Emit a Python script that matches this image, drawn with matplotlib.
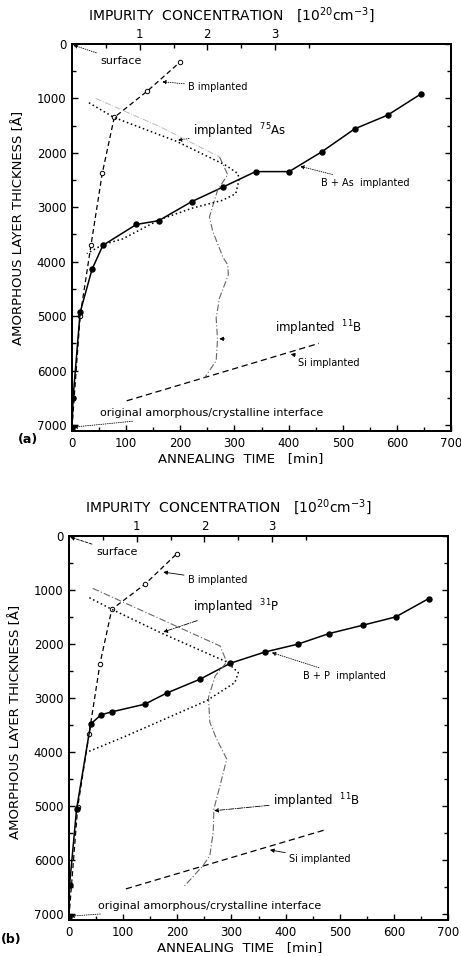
import matplotlib
matplotlib.use("Agg")
import matplotlib.pyplot as plt
from matplotlib.ticker import MultipleLocator, FixedLocator

plt.rcParams['font.family'] = ['DejaVu Sans']
plt.rcParams['mathtext.default'] = 'regular'

# ---------------- panel (a) data ----------------
# regrowth (B + As implanted): annealing time [min], amorphous thickness [Å]
time_BAs = [0, 2, 15, 37, 57, 119, 160, 221, 279, 339, 401, 461, 522, 583, 644]
depth_BAs = [7050, 6500, 4930, 4140, 3700, 3315, 3247, 2897, 2628, 2345, 2345, 1983, 1560, 1307, 921]
# regrowth (B implanted)
time_B_a = [0, 15, 35, 56, 78, 139, 199]
depth_B_a = [7050, 5000, 3700, 2370, 1350, 866, 337]
# regrowth (Si implanted)
time_Si_a = [101, 456]
depth_Si_a = [6556, 5501]
# implanted 75As profile: concentration [1e20 cm^-3], depth [Å]
conc_As = [0.25, 0.62, 1.54, 2.27, 2.45, 2.47, 2.42, 2.22, 1.78, 1.29, 0.75, 0.45, 0.22]
depth_As = [1080, 1350, 1786, 2228, 2380, 2480, 2750, 2873, 3015, 3230, 3580, 3690, 3850]
# implanted 11B profile
conc_B11_a = [0.35, 1.30, 2.18, 2.30, 2.15, 2.03, 2.08, 2.23, 2.30, 2.31, 2.18, 2.13, 2.15, 2.13, 1.96]
depth_B11_a = [1000, 1520, 2075, 2400, 2690, 3180, 3444, 3917, 4057, 4241, 4666, 5030, 5430, 5820, 6130]

# ---------------- panel (b) data ----------------
time_BP = [0, 1, 14, 40, 59, 79, 140, 180, 242, 298, 362, 422, 480, 542, 603, 664]
depth_BP = [7050, 6470, 5055, 3484, 3312, 3257, 3115, 2911, 2652, 2357, 2148, 2005, 1808, 1654, 1500, 1161]
time_B_b = [0, 16, 37, 57, 79, 140, 199]
depth_B_b = [7050, 5025, 3670, 2375, 1358, 896, 330]
time_Si_b = [105, 472]
depth_Si_b = [6535, 5444]
conc_P = [0.30, 0.63, 1.37, 2.33, 2.50, 2.45, 2.03, 0.85, 0.26]
depth_P = [1143, 1358, 1802, 2333, 2530, 2715, 3053, 3700, 4007]
conc_B11_b = [0.35, 2.23, 2.33, 2.16, 2.06, 2.08, 2.18, 2.33, 2.23, 2.14, 2.13, 2.08, 1.98, 1.69]
depth_B11_b = [970, 2037, 2333, 2590, 2990, 3450, 3760, 4130, 4625, 5055, 5487, 5918, 6103, 6503]

time_ticks = [0, 100, 200, 300, 400, 500, 600, 700]
depth_ticks = [0, 1000, 2000, 3000, 4000, 5000, 6000, 7000]
conc_ticks = [1, 2, 3]

fig = plt.figure(figsize=(4.61, 9.56), dpi=100)


def setup(rect, ylab_xy, xlab_xy):
    ax = fig.add_axes(rect)
    ax.set_xlim(0, 700)
    ax.set_ylim(7110, 0)
    ax.set_xticks(time_ticks)
    ax.set_yticks(depth_ticks)
    ax.xaxis.set_minor_locator(MultipleLocator(50))
    ax.yaxis.set_minor_locator(MultipleLocator(500))
    ax.tick_params(which='both', direction='in', top=False, right=True,
                   labelsize=8.5, width=1.0, pad=4)
    ax.tick_params(which='major', length=4)
    ax.tick_params(which='minor', length=3)
    for s in ax.spines.values():
        s.set_linewidth(1.4)
    ax.set_xlabel('ANNEALING  TIME   [min]', fontsize=9.5, va='center')
    ax.xaxis.set_label_coords(*xlab_xy)
    ax.set_ylabel('AMORPHOUS LAYER THICKNESS [Å]', fontsize=9.5, va='center')
    ax.yaxis.set_label_coords(*ylab_xy)

    ax2 = ax.twiny()
    ax2.set_xlim(0, 700 / 125)
    ax2.xaxis.set_major_locator(FixedLocator(conc_ticks))
    ax2.xaxis.set_minor_locator(FixedLocator([0.5, 1.5, 2.5, 3.5]))
    ax2.tick_params(which='both', direction='in', labelsize=8.5, width=1.0, pad=2)
    ax2.tick_params(which='major', length=4)
    ax2.tick_params(which='minor', length=3)
    ax2.set_xlabel(r'IMPURITY  CONCENTRATION   [10$^{20}$cm$^{-3}$]', fontsize=10, va='center')
    ax2.xaxis.set_label_coords(0.42, 1.075)
    for s in ax2.spines.values():
        s.set_linewidth(1.4)
    return ax, ax2


def leader(ax, text, tip, txt, fs=7, ls=':'):
    ax.annotate(text, xy=tip, xytext=txt, fontsize=fs, ha='left', va='center',
                arrowprops=dict(arrowstyle='-|>', lw=0.6, color='k', linestyle=ls,
                                mutation_scale=6, shrinkA=1, shrinkB=0))


# ================= panel (a) =================
axa, axa2 = setup([0.1562, 0.5492, 0.8221, 0.4048], (-0.142, 0.525), (0.446, -0.072))
axa2.plot(conc_B11_a[:3], depth_B11_a[:3], color='#bbbbbb', lw=0.7, ls='-.')
axa2.plot(conc_B11_a[2:], depth_B11_a[2:], color='#666666', lw=0.8, ls=(0, (6, 2, 1, 2)))
axa2.plot(conc_As, depth_As, color='k', lw=1.1, ls=(0, (1, 1.8)))
axa.plot(time_B_a, depth_B_a, color='k', lw=0.9, ls=(0, (4, 2.5)),
         marker='o', ms=3.2, mfc='white', mec='k', mew=0.7)
axa.plot(time_Si_a, depth_Si_a, color='k', lw=0.9, ls=(0, (5, 3)))
axa.plot(time_BAs, depth_BAs, color='k', lw=1.1, marker='o', ms=3.6, mfc='k', mec='k')
axa.plot([0], [7050], marker='v', color='k', ms=4)

leader(axa, 'surface', (2, 20), (52, 313), fs=8)
leader(axa, 'B implanted', (166, 694), (215, 786), fs=7)
leader(axa, r'implanted  $^{75}$As', (195, 1768), (224, 1600), fs=8.5)
leader(axa, 'B + As  implanted', (421, 2247), (459, 2547), fs=7)
axa.text(375, 5215, r'implanted  $^{11}$B', fontsize=8.5, ha='left', va='center')
axa.annotate('', xy=(272, 5418), xytext=(282, 5418),
             arrowprops=dict(arrowstyle='-|>', lw=0.6, color='k', mutation_scale=6,
                             shrinkA=0, shrinkB=0))
leader(axa, 'Si implanted', (404, 5697), (418, 5866), fs=7, ls='-')
leader(axa, 'original amorphous/crystalline interface', (2, 7040), (52, 6786), fs=8)
fig.text(28 / 461, 1 - 440 / 956, '(a)', fontsize=9, fontweight='bold', ha='center', va='center')

# ================= panel (b) =================
axb, axb2 = setup([0.1497, 0.0377, 0.8224, 0.4017], (-0.14, 0.516), (0.45, -0.071))
axb2.plot(conc_B11_b, depth_B11_b, color='#666666', lw=0.8, ls=(0, (6, 2, 1, 2)))
axb2.plot(conc_P, depth_P, color='k', lw=1.1, ls=(0, (1, 1.8)))
axb.plot(time_B_b, depth_B_b, color='k', lw=0.9, ls=(0, (4, 2.5)),
         marker='o', ms=3.2, mfc='white', mec='k', mew=0.7)
axb.plot(time_Si_b, depth_Si_b, color='k', lw=0.9, ls=(0, (5, 3)))
axb.plot(time_BP, depth_BP, color='k', lw=1.1, marker='o', ms=3.6, mfc='k', mec='k')
axb.plot([0], [7050], marker='v', color='k', ms=4)

leader(axb, 'surface', (2, 20), (50, 300), fs=8, ls='--')
leader(axb, 'B implanted', (174, 669), (220, 817), fs=7, ls='-')
leader(axb, r'implanted  $^{31}$P', (174, 1778), (229, 1327), fs=8.5, ls='-.')
leader(axb, 'B + P  implanted', (374, 2159), (432, 2591), fs=7)
leader(axb, r'implanted  $^{11}$B', (268, 5087), (377, 4902), fs=8.5, ls='-.')
leader(axb, 'Si implanted', (371, 5813), (407, 5980), fs=7, ls='-')
leader(axb, 'original amorphous/crystalline interface', (2, 7040), (54, 6854), fs=8)
fig.text(11 / 461, 1 - 940 / 956, '(b)', fontsize=9, fontweight='bold', ha='center', va='center')

fig.savefig('out.png', dpi=100)
